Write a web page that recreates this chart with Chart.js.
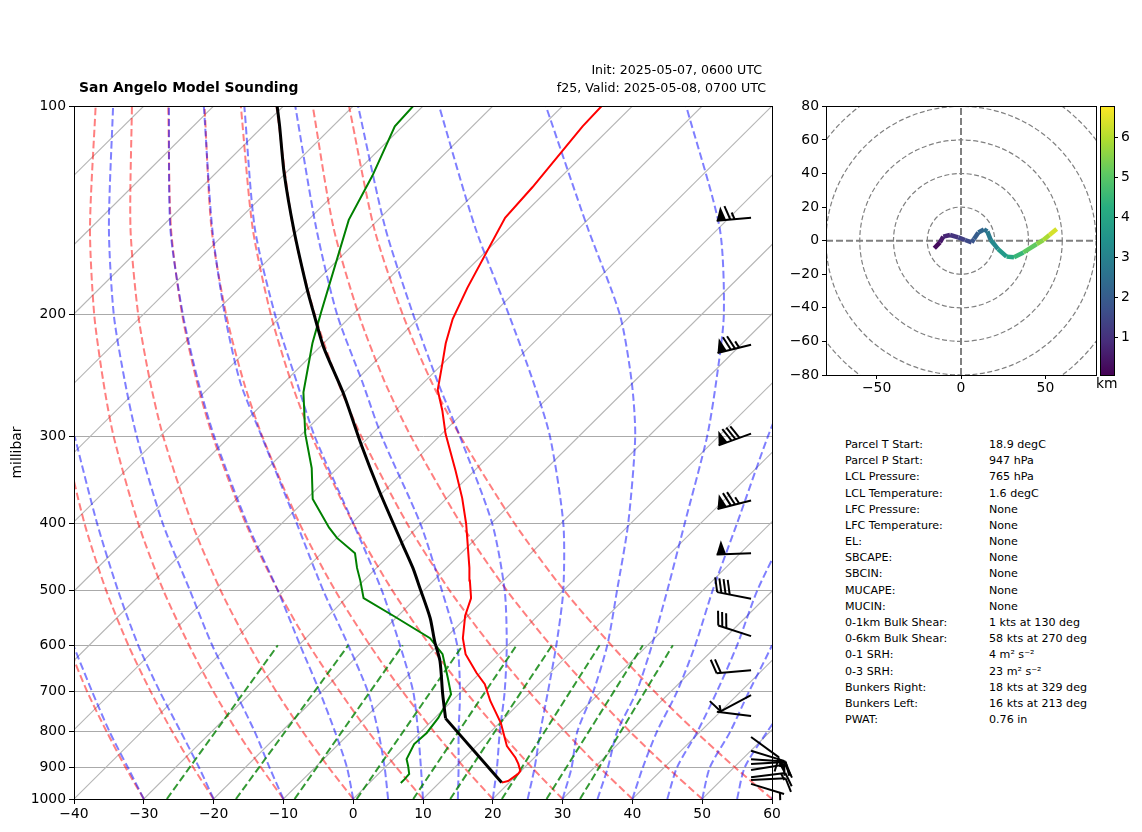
<!DOCTYPE html>
<html>
<head>
<meta charset="utf-8">
<title>San Angelo Model Sounding</title>
<script src="https://cdn.jsdelivr.net/npm/chart.js@4/dist/chart.umd.min.js"></script>
<style>
    body { margin: 0; background: #fff; font-family: "DejaVu Sans", sans-serif; color: #000; }
    #page { position: relative; width: 1142px; height: 832px; overflow: hidden; }
    #page canvas { position: absolute; }
    .txt { position: absolute; white-space: nowrap; line-height: 1; }
    .stat { font-size: 11.1px; }
</style>
</head>
<body>
<div id="page">
    <canvas id="skewChart" width="800" height="832" style="left:0;top:0;width:800px;height:832px"></canvas>
    <canvas id="hodoChart" width="320" height="300" style="left:780px;top:95px;width:320px;height:300px"></canvas>
    <canvas id="barChart" width="47" height="300" style="left:1095px;top:95px;width:47px;height:300px"></canvas>
    <div class="txt" style="left:79px;top:81px;font-size:13.9px;font-weight:bold">San Angelo Model Sounding</div>
    <div class="txt" style="right:380px;top:64px;font-size:12.6px">Init: 2025-05-07, 0600 UTC</div>
    <div class="txt" style="right:376px;top:82px;font-size:12.6px">f25, Valid: 2025-05-08, 0700 UTC</div>
    <div class="txt" style="left:1096px;top:377px;font-size:13.9px">km</div>
    <div id="stats"></div>
</div>
<script>
// sounding, pressure in hPa and temperature in degC
const tempP = [947, 942, 920, 911, 890, 872, 839, 806, 777, 746, 722, 683, 658, 618, 586, 544, 513, 484, 464, 401, 368, 336, 297, 275, 257, 237, 220, 203, 183, 145, 131, 107, 100]
const tempC = [18.9, 19.6, 20.0, 19.9, 18.6, 17.3, 14.4, 12.2, 10.2, 7.6, 5.5, 2.3, -0.5, -4.8, -7.5, -10.4, -12.1, -14.8, -16.7, -23.5, -27.8, -32.7, -39.5, -43.3, -46.9, -49.8, -52.5, -55.0, -57.4, -62.1, -62.6, -64.2, -64.4]
const dewP = [948, 936, 920, 896, 876, 833, 803, 764, 734, 706, 669, 618, 586, 544, 513, 484, 464, 442, 420, 406, 369, 333, 297, 259, 220, 198, 146, 126, 107, 100]
const dewC = [4.5, 4.5, 4.4, 3.1, 1.9, 0.8, 1.0, 0.5, -0.3, -1.1, -3.9, -8.1, -12.2, -20.7, -27.5, -30.5, -32.8, -35.2, -40.0, -42.6, -49.1, -53.7, -59.6, -65.8, -71.6, -74.9, -84.2, -87.2, -91.1, -91.4]
// parcel path, dry leg up to the LCL then the moist leg
const parcelDryP = [947, 765]
const parcelDryC = [18.9, 1.6]
const parcelP = [765, 706, 632, 592, 548, 496, 464, 429, 360, 308, 260, 223, 200, 183, 151, 125, 107, 100]
const parcelC = [1.6, -2.3, -7.5, -11.1, -15.1, -20.9, -24.8, -29.7, -40.6, -50.0, -59.9, -69.4, -75.5, -80.4, -90.6, -100.2, -107.6, -110.9]

// winds on the right of the sounding
const windP = [145, 221, 297, 371, 442, 514, 582, 652, 708, 759, 814, 852, 876, 890, 908, 930, 939, 951]
const windDir = [265, 256, 250, 256, 268, 281, 288, 265, 242, 277, 126, 107, 94, 87, 81, 83, 87, 107]
const windKt = [65, 75, 80, 75, 50, 40, 30, 20, 10, 5, 10, 15, 15, 15, 15, 15, 10, 5]

// axes
const pressureTicks = [100, 200, 300, 400, 500, 600, 700, 800, 900, 1000]
const isotherms = [-130, -120, -110, -100, -90, -80, -70, -60, -50, -40, -30, -20, -10, 0, 10, 20, 30, 40, 50, 60]

// background curves, one row per line, values on the levels below
const guideP = [1000, 900, 800, 700, 600, 500, 400, 300, 250, 200, 150, 100]
// dry adiabats in degC
const dryT = [
    [-30, -37.2, -45.0, -53.6, -63.0, -73.7, -86.0, -100.8, -109.5, -119.6, -131.7, -147.2],
    [-20, -27.5, -35.6, -44.5, -54.4, -65.5, -78.3, -93.7, -102.8, -113.3, -125.9, -142.0],
    [-10, -17.8, -26.3, -35.5, -45.7, -57.3, -70.6, -86.6, -96.0, -107.0, -120.1, -136.9],
    [0, -8.1, -16.9, -26.5, -37.1, -49.1, -62.9, -79.5, -89.3, -100.7, -114.3, -131.7],
    [10, 1.6, -7.5, -17.4, -28.5, -40.9, -55.2, -72.4, -82.6, -94.4, -108.5, -126.5],
    [20, 11.3, 1.9, -8.4, -19.8, -32.7, -47.5, -65.3, -75.9, -88.1, -102.7, -121.3],
    [30, 21.0, 11.3, 0.6, -11.2, -24.5, -39.8, -58.2, -69.1, -81.7, -96.8, -116.1],
    [40, 30.7, 20.7, 9.7, -2.5, -16.3, -32.1, -51.1, -62.4, -75.4, -91.0, -111.0],
    [50, 40.4, 30.0, 18.7, 6.1, -8.1, -24.4, -44.0, -55.7, -69.1, -85.2, -105.8],
    [60, 50.1, 39.4, 27.7, 14.8, 0.1, -16.7, -36.9, -49.0, -62.8, -79.4, -100.6]
]
// moist adiabats as read along the bottom axis
const moistX = [
    [-30.0, -32.3, -34.9, -37.4, -40.1],
    [-20.0, -22.1, -24.7, -27.7, -30.8, -33.7, -36.7, -39.9],
    [-10.0, -12.0, -14.1, -16.9, -20.2, -23.4, -27.3, -31.0, -32.7, -34.3, -35.0, -34.4],
    [0, -0.9, -2.6, -4.8, -7.6, -10.8, -15.2, -19.9, -22.2, -24.4, -26.2, -26.4],
    [5.0, 4.5, 3.6, 2.1, -0.7, -4.3, -8.1, -13.1, -16.2, -18.4, -20.2, -21.4],
    [10.0, 9.7, 9.3, 8.6, 6.7, 4.1, 0, -5.5, -8.1, -11.2, -14.1, -15.6],
    [15.0, 15.1, 15.1, 15.3, 14.9, 12.7, 9.6, 4.1, 1.3, -2.3, -5.3, -8.3],
    [20.0, 20.6, 21.0, 21.7, 22.0, 21.7, 19.9, 15.3, 12.1, 8.6, 4.6, 0.7],
    [25.0, 26.0, 26.8, 27.9, 29.1, 30.1, 30.1, 28.2, 25.8, 22.3, 17.5, 12.3],
    [30.0, 31.3, 32.1, 34.4, 36.4, 37.8, 39.4, 40.4, 39.9, 38.2, 33.6, 27.6],
    [35.0, 36.5, 37.8, 40.6, 42.8, 45.0, 47.5, 50.7, 52.0, 53.1, 52.5, 47.7],
    [40.0, 41.5, 43.5, 46.4, 49.0, 51.5, 55.0, 59.4, 62.6],
    [45.0, 46.4, 49.3, 52.1, 55.0, 57.9, 62.6],
    [50.0, 51.1, 54.0, 56.7, 60.0, 63.3],
    [55.0, 56.1, 59.3, 63.3],
    [60.0, 61.4]
]
// mixing ratio lines, x at 1000 hPa and at 600 hPa
const mixingBottomX = [-26.7, -16.8, -8.4, 0.5, 8.6, 13.9, 21.3, 27.7, 32.5]
const mixingTopX = [-10.8, -0.7, 7.1, 15.7, 23.4, 28.5, 35.3, 41.5, 45.8]

// hodograph
const hodoU = [-15.8, -12.5, -10.5, -6.5, -1.6, 2.4, 6.3, 7.7, 10.3, 13.6, 15.6, 17.6, 22, 27, 31.4, 37, 44.9, 48.8, 52.4, 56.7]
const hodoV = [-4.5, -1, 2.4, 3.4, 2, 0.4, -1, 1, 4.9, 6.7, 5.5, 0.4, -5, -9.5, -9.9, -7, -2, 0.4, 3.4, 6.9]
const hodoKm = [0.1, 0.4, 0.6, 0.9, 1.2, 1.4, 1.7, 1.9, 2.1, 2.4, 2.6, 3.0, 3.4, 3.9, 4.2, 4.8, 5.4, 5.7, 6.1, 6.6]
const hodoRings = [20, 40, 60, 80, 100]
const hodoXTicks = [-50, 0, 50]
const kmMin = 0.055
const kmMax = 6.77
const kmTicks = [1, 2, 3, 4, 5, 6]
const viridis = ['#440154', '#472d7b', '#3b528b', '#2c728e', '#21918c', '#28ae80', '#5ec962', '#addc30', '#fde725']

// text table
const statLabels = ['Parcel T Start:', 'Parcel P Start:', 'LCL Pressure:', 'LCL Temperature:', 'LFC Pressure:', 'LFC Temperature:', 'EL:', 'SBCAPE:', 'SBCIN:', 'MUCAPE:', 'MUCIN:', '0-1km Bulk Shear:', '0-6km Bulk Shear:', '0-1 SRH:', '0-3 SRH:', 'Bunkers Right:', 'Bunkers Left:', 'PWAT:']
const statValues = ['18.9 degC', '947 hPa', '765 hPa', '1.6 degC', 'None', 'None', 'None', 'None', 'None', 'None', 'None', '1 kts at 130 deg', '58 kts at 270 deg', '4 m\u00b2 s\u207b\u00b2', '23 m\u00b2 s\u207b\u00b2', '18 kts at 329 deg', '16 kts at 213 deg', '0.76 in']

const SKEW = 100
const BARB_X = 57

Chart.defaults.font.family = '"DejaVu Sans", sans-serif'
Chart.defaults.font.size = 13.9
Chart.defaults.color = '#000'
Chart.defaults.animation = false

function skewX(t, p) {
    return t + SKEW * Math.log10(1000 / p)
}

function skewed(pres, temps) {
    return temps.map(function (t, i) {
        return {x: skewX(t, pres[i]), y: pres[i]}
    })
}

function minusSign(v) {
    return v < 0 ? '\u2212' + Math.abs(v) : String(v)
}

function line(data, color, width, dash, tension) {
    return {
        data: data,
        showLine: true,
        borderColor: color,
        borderWidth: width,
        borderDash: dash || [],
        tension: tension || 0,
        pointRadius: 0
    }
}

function viridisAt(t) {
    const f = Math.min(Math.max(t, 0), 1) * (viridis.length - 1)
    const i = Math.min(Math.floor(f), viridis.length - 2)
    const a = parseInt(viridis[i].slice(1), 16)
    const b = parseInt(viridis[i + 1].slice(1), 16)
    const mix = function (shift) {
        const ca = (a >> shift) & 255
        const cb = (b >> shift) & 255
        return Math.round(ca + (cb - ca) * (f - i))
    }
    return 'rgb(' + mix(16) + ',' + mix(8) + ',' + mix(0) + ')'
}

const frame = {
    id: 'frame',
    afterDraw(chart) {
        const a = chart.chartArea
        const ctx = chart.ctx
        ctx.save()
        ctx.strokeStyle = '#000'
        ctx.lineWidth = 1
        ctx.strokeRect(Math.round(a.left) + 0.5, Math.round(a.top) + 0.5, Math.round(a.right - a.left), Math.round(a.bottom - a.top))
        ctx.restore()
    }
}

const windBarbs = {
    id: 'windBarbs',
    afterDatasetsDraw(chart) {
        const ctx = chart.ctx
        const tipX = chart.scales.x.getPixelForValue(BARB_X)
        const L = 34.5, H = 14, W = 9.5, S = 4.25
        ctx.save()
        ctx.strokeStyle = '#000'
        ctx.fillStyle = '#000'
        ctx.lineWidth = 2
        windP.forEach(function (p, i) {
            const tipY = chart.scales.y.getPixelForValue(p)
            const d = windDir[i] * Math.PI / 180
            const vx = Math.sin(d), vy = -Math.cos(d)
            const nx = -vy, ny = vx
            const ex = tipX + L * vx, ey = tipY + L * vy
            const at = function (o) {
                return [ex - vx * o, ey - vy * o]
            }
            ctx.beginPath()
            ctx.moveTo(tipX, tipY)
            ctx.lineTo(ex, ey)
            ctx.stroke()
            let speed = windKt[i]
            let o = 0
            const onlyHalf = speed < 10
            while (speed >= 50) {
                const a = at(o), b = at(o + W), m = at(o + W / 2)
                ctx.beginPath()
                ctx.moveTo(a[0], a[1])
                ctx.lineTo(m[0] + nx * H, m[1] + ny * H)
                ctx.lineTo(b[0], b[1])
                ctx.closePath()
                ctx.fill()
                o += W + S
                speed -= 50
            }
            while (speed >= 10) {
                const a = at(o)
                ctx.beginPath()
                ctx.moveTo(a[0], a[1])
                ctx.lineTo(a[0] + nx * H + vx * W / 2, a[1] + ny * H + vy * W / 2)
                ctx.stroke()
                o += S
                speed -= 10
            }
            if (speed >= 5) {
                if (onlyHalf) {
                    o += S
                }
                const a = at(o)
                ctx.beginPath()
                ctx.moveTo(a[0], a[1])
                ctx.lineTo(a[0] + nx * H / 2 + vx * W / 4, a[1] + ny * H / 2 + vy * W / 4)
                ctx.stroke()
            }
        })
        ctx.restore()
    }
}

const rings = {
    id: 'rings',
    beforeDatasetsDraw(chart) {
        const ctx = chart.ctx
        const a = chart.chartArea
        const xs = chart.scales.x, ys = chart.scales.y
        ctx.save()
        ctx.beginPath()
        ctx.rect(a.left, a.top, a.right - a.left, a.bottom - a.top)
        ctx.clip()
        ctx.strokeStyle = '#808080'
        ctx.lineWidth = 1.2
        ctx.setLineDash([5, 2.5])
        hodoRings.forEach(function (r) {
            ctx.beginPath()
            ctx.ellipse(xs.getPixelForValue(0), ys.getPixelForValue(0),
                xs.getPixelForValue(r) - xs.getPixelForValue(0),
                ys.getPixelForValue(0) - ys.getPixelForValue(r), 0, 0, Math.PI * 2)
            ctx.stroke()
        })
        ctx.restore()
    }
}

// first dataset ends up on top
const skewSets = [
    line(skewed(parcelDryP, parcelDryC), '#000', 3),
    line(skewed(parcelP, parcelC), '#000', 3, [], 0.25),
    line(skewed(tempP, tempC), '#ff0000', 2),
    line(skewed(dewP, dewC), '#008000', 2)
]
mixingBottomX.forEach(function (x, i) {
    skewSets.push(line([{x: x, y: 1000}, {x: mixingTopX[i], y: 600}], 'rgba(0,128,0,0.8)', 2, [7.5, 3.5]))
})
moistX.forEach(function (row) {
    skewSets.push(line(row.map(function (x, i) {
        return {x: x, y: guideP[i]}
    }), 'rgba(0,0,255,0.5)', 2, [7.5, 3.5], 0.25))
})
dryT.forEach(function (row) {
    skewSets.push(line(skewed(guideP, row), 'rgba(255,0,0,0.5)', 2, [7.5, 3.5], 0.25))
})
isotherms.forEach(function (t) {
    skewSets.push(line(skewed([1000, 100], [t, t]), '#b6b6b6', 1.1))
})

new Chart(document.getElementById('skewChart'), {
    type: 'scatter',
    data: {datasets: skewSets},
    plugins: [frame, windBarbs],
    options: {
        responsive: false,
        layout: {padding: {top: 106, right: 28, bottom: 0, left: 0}},
        plugins: {legend: {display: false}, tooltip: {enabled: false}},
        scales: {
            x: {
                type: 'linear',
                min: -40,
                max: 60,
                afterFit(scale) { scale.height = 33 },
                grid: {drawOnChartArea: false, tickColor: '#000', tickLength: 5},
                border: {color: '#000'},
                ticks: {stepSize: 10, maxRotation: 0, padding: 2, callback: minusSign}
            },
            y: {
                type: 'logarithmic',
                reverse: true,
                min: 100,
                max: 1000,
                afterFit(scale) { scale.width = 74 },
                afterBuildTicks(scale) {
                    scale.ticks = pressureTicks.map(function (v) { return {value: v} })
                },
                title: {display: true, text: 'millibar', font: {size: 13.9}, padding: {top: 9, bottom: 0}},
                grid: {color: '#aaaaaa', lineWidth: 1, tickColor: '#000', tickWidth: 1, tickLength: 5},
                border: {color: '#000'},
                ticks: {autoSkip: false, padding: 3, callback: function (v) { return String(v) }}
            }
        }
    }
})

new Chart(document.getElementById('hodoChart'), {
    type: 'scatter',
    data: {
        datasets: [
            {
                data: hodoU.map(function (u, i) { return {x: u, y: hodoV[i]} }),
                showLine: true,
                borderWidth: 4.5,
                borderJoinStyle: 'round',
                pointRadius: 0,
                segment: {
                    borderColor: function (ctx) {
                        const km = (hodoKm[ctx.p0DataIndex] + hodoKm[ctx.p1DataIndex]) / 2
                        return viridisAt((km - kmMin) / (kmMax - kmMin))
                    }
                }
            },
            line([{x: -80, y: 0}, {x: 80, y: 0}], '#808080', 2, [7, 3]),
            line([{x: 0, y: -80}, {x: 0, y: 80}], '#808080', 2, [7, 3])
        ]
    },
    plugins: [frame, rings],
    options: {
        responsive: false,
        layout: {padding: {top: 10, right: 4, bottom: 0, left: 0}},
        plugins: {legend: {display: false}, tooltip: {enabled: false}},
        scales: {
            x: {
                type: 'linear',
                min: -80,
                max: 80,
                afterFit(scale) { scale.height = 20 },
                afterBuildTicks(scale) {
                    scale.ticks = hodoXTicks.map(function (v) { return {value: v} })
                },
                grid: {drawOnChartArea: false, tickColor: '#000', tickLength: 4},
                border: {color: '#000'},
                ticks: {maxRotation: 0, padding: 1, callback: minusSign}
            },
            y: {
                type: 'linear',
                min: -80,
                max: 80,
                afterFit(scale) { scale.width = 46 },
                grid: {drawOnChartArea: false, tickColor: '#000', tickLength: 4},
                border: {color: '#000'},
                ticks: {stepSize: 20, padding: 3, callback: minusSign}
            }
        }
    }
})

new Chart(document.getElementById('barChart'), {
    type: 'bar',
    data: {
        labels: ['km'],
        datasets: [{
            data: [[kmMin, kmMax]],
            barPercentage: 1,
            categoryPercentage: 1,
            backgroundColor: function (ctx) {
                const a = ctx.chart.chartArea
                if (!a) {
                    return viridis[0]
                }
                const g = ctx.chart.ctx.createLinearGradient(0, a.bottom, 0, a.top)
                viridis.forEach(function (c, i) {
                    g.addColorStop(i / (viridis.length - 1), c)
                })
                return g
            }
        }]
    },
    plugins: [frame],
    options: {
        responsive: false,
        layout: {padding: {top: 10, right: 0, bottom: 20, left: 5}},
        plugins: {legend: {display: false}, tooltip: {enabled: false}},
        scales: {
            x: {display: false},
            y: {
                position: 'right',
                min: kmMin,
                max: kmMax,
                afterFit(scale) { scale.width = 28 },
                afterBuildTicks(scale) {
                    scale.ticks = kmTicks.map(function (v) { return {value: v} })
                },
                grid: {drawOnChartArea: false, tickColor: '#000', tickLength: 4},
                border: {color: '#000'},
                ticks: {padding: 3, callback: function (v) { return String(v) }}
            }
        }
    }
})

const stats = document.getElementById('stats')
statLabels.forEach(function (label, i) {
    const top = 439 + i * 16.18
    const left = document.createElement('div')
    left.className = 'txt stat'
    left.style.left = '845px'
    left.style.top = top + 'px'
    left.textContent = label
    stats.appendChild(left)
    const right = document.createElement('div')
    right.className = 'txt stat'
    right.style.left = '989px'
    right.style.top = top + 'px'
    right.textContent = statValues[i]
    stats.appendChild(right)
})
</script>
</body>
</html>
